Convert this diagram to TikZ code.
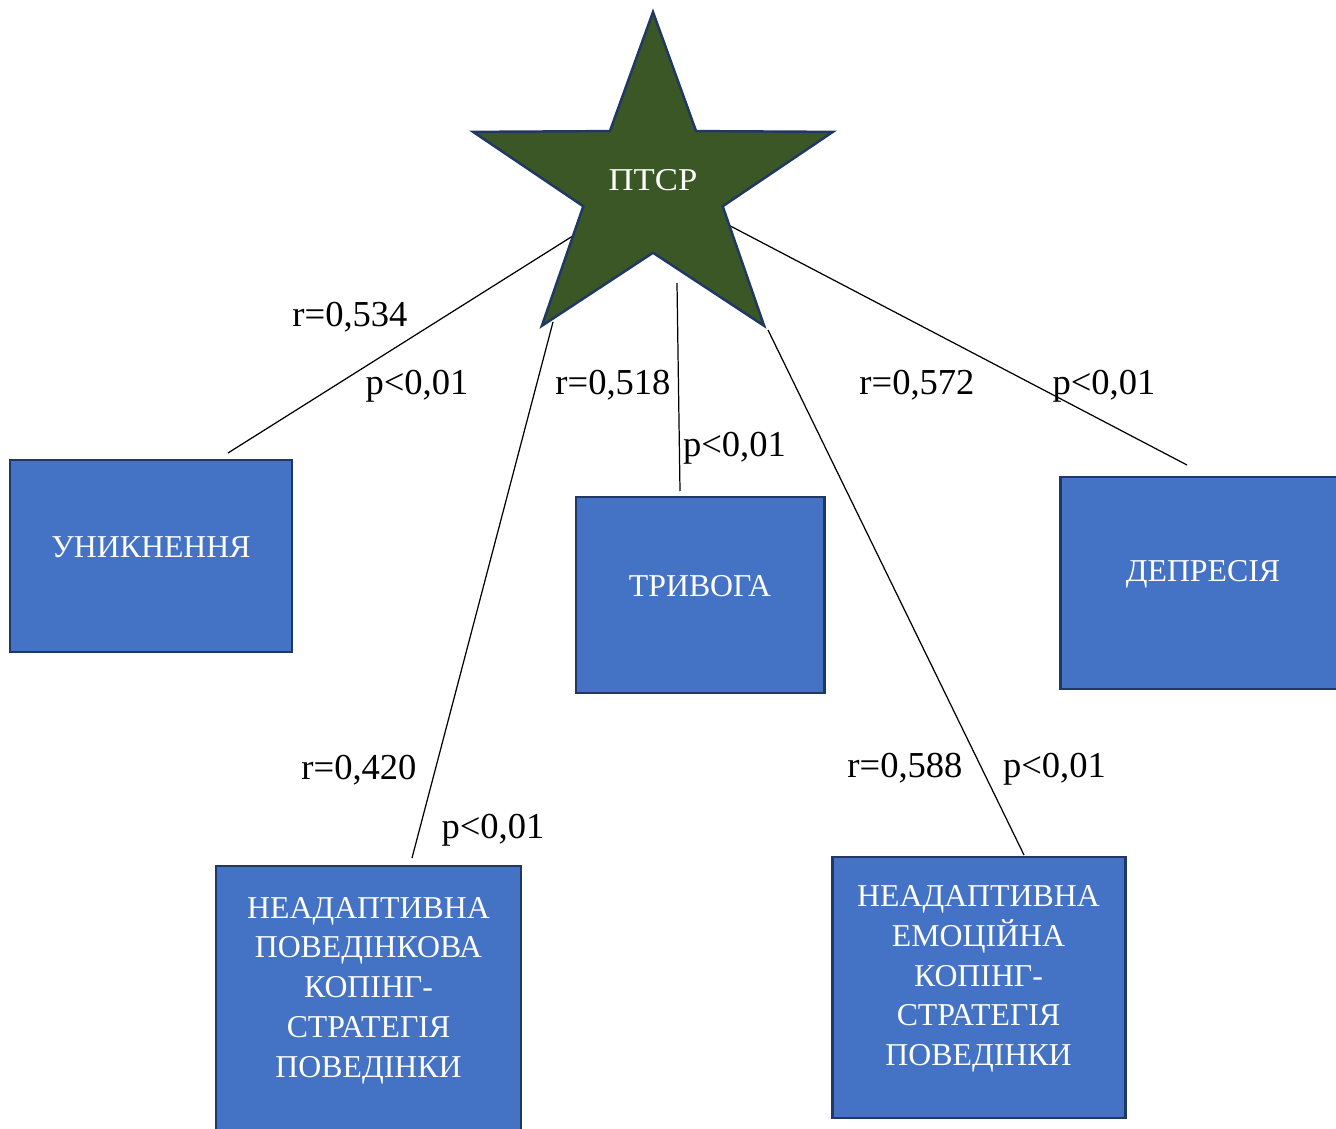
\documentclass[tikz,border=0pt]{standalone}
\usepackage{fontspec}
\setmainfont{Liberation Serif}
\usepackage{xcolor}
\usetikzlibrary{shapes.geometric, backgrounds}

\definecolor{boxblue}{HTML}{4472C4}
\definecolor{boxedge}{HTML}{203864}
\definecolor{stargreen}{HTML}{3A5725}

\newcommand{\boxfont}{\fontsize{18.1pt}{22.6pt}\selectfont}
\newcommand{\lblfont}{\fontsize{20.8pt}{24pt}\selectfont}
\newcommand{\boxpad}{\endgraf\vspace*{0.34cm}}

\begin{document}
\begin{tikzpicture}[
    box/.style={rectangle, draw=boxedge, line width=1.7pt, fill=boxblue, text=white, font=\boxfont, align=center, inner sep=0pt, execute at end node=\boxpad},
    starnode/.style={star, star points=5, star point ratio=2.58, draw=boxedge, line width=1.4pt, fill=stargreen, text=white, font=\boxfont, minimum size=6.94cm, inner sep=0pt, text depth=0.22cm},
    link/.style={line width=0.7pt},
    lbl/.style={font=\lblfont, inner sep=0pt, anchor=base}
]
\useasboundingbox (0,0) rectangle (26.72,-22.58);

% ============================================================
% CENTRE: PTSD STAR
% ============================================================
\begin{scope}[shift={(13.06,-3.71)}, xscale=1.09]
    \node[starnode, transform shape] (ptsr) at (0,0) {ПТСР};
\end{scope}

% ============================================================
% OUTCOME BOXES
% ============================================================
\node[box, minimum width=5.64cm, minimum height=3.84cm, text width=5.3cm] (avoid)   at (3.02,-11.12) {УНИКНЕННЯ};
\node[box, minimum width=4.96cm, minimum height=3.92cm, text width=4.6cm] (anxiety) at (14.00,-11.90) {ТРИВОГА};
\node[box, minimum width=5.72cm, minimum height=4.24cm, text width=5.4cm] (depress) at (24.06,-11.66) {ДЕПРЕСІЯ};
\node[box, minimum width=6.10cm, minimum height=5.32cm, text width=5.8cm] (behcope) at (7.37,-19.98)
    {НЕАДАПТИВНА\\ПОВЕДІНКОВА\\КОПІНГ-\\СТРАТЕГІЯ\\ПОВЕДІНКИ};
\node[box, minimum width=5.86cm, minimum height=5.22cm, text width=5.5cm] (emocope) at (19.57,-19.75)
    {НЕАДАПТИВНА\\ЕМОЦІЙНА\\КОПІНГ-\\СТРАТЕГІЯ\\ПОВЕДІНКИ};

% ============================================================
% CONNECTOR ENDS
% ============================================================
\coordinate (avoidtop) at (4.56,-9.06);
\coordinate (behfrom)  at (11.06,-6.44);
\coordinate (behtop)   at (8.24,-17.16);
\coordinate (anxfrom)  at (13.54,-5.66);
\coordinate (anxtop)   at (13.60,-9.82);
\coordinate (emofrom)  at (15.36,-6.60);
\coordinate (emotop)   at (20.48,-17.10);
\coordinate (deptop)   at (23.74,-9.30);

\begin{scope}[on background layer]
    \draw[link] (ptsr.center) -- (avoidtop);
    \draw[link] (behfrom) -- (behtop);
    \draw[link] (anxfrom) -- (anxtop);
    \draw[link] (emofrom) -- (emotop);
    \draw[link] (ptsr.center) -- (deptop);
\end{scope}

% ============================================================
% CORRELATION LABELS
% ============================================================
\node[lbl] (ravoid) at (7.00,-6.54)  {r=0,534};
\node[lbl] (pavoid) at (8.34,-7.90)  {p<0,01};
\node[lbl] (ranx)   at (12.26,-7.90) {r=0,518};
\node[lbl] (panx)   at (14.69,-9.14) {p<0,01};
\node[lbl] (rdep)   at (18.34,-7.90) {r=0,572};
\node[lbl] (pdep)   at (22.08,-7.90) {p<0,01};
\node[lbl] (rbeh)   at (7.18,-15.58) {r=0,420};
\node[lbl] (pbeh)   at (9.86,-16.76) {p<0,01};
\node[lbl] (remo)   at (18.10,-15.54) {r=0,588};
\node[lbl] (pemo)   at (21.09,-15.54) {p<0,01};

\end{tikzpicture}
\end{document}
